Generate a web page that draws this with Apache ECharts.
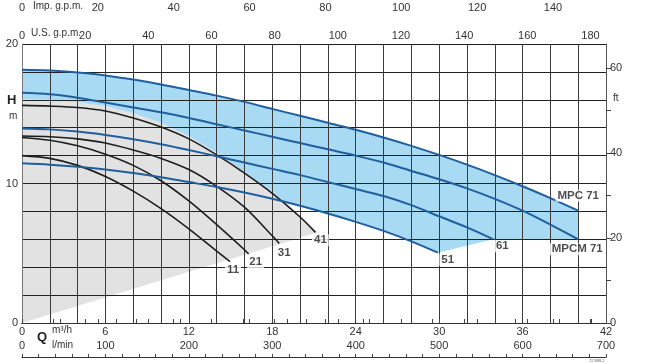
<!DOCTYPE html>
<html><head><meta charset="utf-8">
<script src="https://cdn.jsdelivr.net/npm/echarts@6/dist/echarts.min.js"></script>
<style>html,body{margin:0;padding:0;background:#fff}#c{width:653px;height:364px}</style>
</head><body><div id="c"></div>
<script>
// ---- data (Q in m3/h, H in m) ----
const qMPC71 = [0,2,4,6,8,10,12,14,16,18,20,22,24,26,28,30,32,34,36,38,40];
const hMPC71 = [18.15,18.1,17.95,17.75,17.45,17.1,16.7,16.3,15.85,15.35,14.85,14.35,13.85,13.3,12.7,12.05,11.35,10.6,9.8,8.95,8.05];
const qMPCM71 = [0,2,4,6,8,10,12,14,16,18,20,22,24,26,28,30,32,34,36,38,40];
const hMPCM71 = [16.5,16.4,16.15,15.8,15.45,15.1,14.7,14.25,13.8,13.35,12.9,12.45,12.0,11.5,10.9,10.3,9.65,8.9,8.05,7.05,6.0];
const q61 = [0,2,4,6,8,10,12,14,16,18,20,22,24,26,28,30,32,33.9];
const h61 = [13.95,13.88,13.72,13.48,13.18,12.82,12.4,11.95,11.5,11.05,10.6,10.1,9.6,9.1,8.45,7.65,6.85,6.0];
const q51 = [0,2,4,6,8,10,12,14,16,18,20,22,24,26,28,29.9];
const h51 = [11.45,11.35,11.2,11.0,10.75,10.45,10.1,9.75,9.35,8.9,8.4,7.85,7.25,6.6,5.85,5.04];
const q41 = [0,2,4,6,8,10,12,14,16,18,20,21.1];
const h41 = [15.6,15.55,15.45,15.2,14.7,14.05,13.2,12.05,10.75,9.3,7.6,6.5];
const q31 = [0,2,4,6,8,10,12,14,16,18,18.5];
const h31 = [13.4,13.35,13.2,12.9,12.4,11.8,11.0,9.8,8.3,6.25,5.7];
const q21 = [0,2,4,6,8,10,12,14,16,16.3];
const h21 = [13.3,13.1,12.7,12.1,11.3,10.2,8.75,7.05,5.25,4.95];
const q11 = [0,2,4,6,8,10,12,14,14.96];
const h11 = [12.0,11.8,11.3,10.5,9.45,8.2,6.75,5.15,4.4];
// gray zone boundary (upper envelope)
const qGray = [0,2,4,6,8,10,12,14,16,18,20,21.3];
const hGray = [16.05,16.0,15.85,15.55,15.05,14.35,13.4,12.2,10.85,9.4,7.7,6.5];
// tick labels
const qTickLabels = [0,6,12,18,24,30,36,42];
const lminTickLabels = [0,100,200,300,400,500,600,700];
const hTickLabels = [0,10,20];
const ftTickLabels = [0,20,40,60];
const usTickLabels = [0,20,40,60,80,100,120,140,160,180];
const impTickLabels = [0,20,40,60,80,100,120,140];
const blueNames = ['MPC 71','MPCM 71','61','51'];
const blackNames = ['41','31','21','11'];

// ---- build ----
const zip = (q,h) => q.map((v,i)=>[v,h[i]]);
const last = (q,h) => [q[q.length-1], h[h.length-1]];
const FONT = '"Liberation Sans", Arial, sans-serif';
const M3H_TO_USGPM = 4.40287, M3H_TO_IMPGPM = 3.66615, M3H_TO_LMIN = 1000/60, M_TO_FT = 1/0.3048;
const QMAX = 42, HMAX = 20;

const bluePoly = zip(qMPC71,hMPC71)
  .concat([last(qMPCM71,hMPCM71), last(q61,h61)])
  .concat(zip(q51,h51).reverse());
const grayPoly = [[0,0]].concat(zip(qGray,hGray));

function polySeries(pts, color){
  return {type:'custom', xAxisIndex:0, yAxisIndex:0, z:1, silent:true, data:[[0,0]],
    renderItem:(p,api)=>({type:'polygon', shape:{points: pts.map(pt=>api.coord(pt))}, style:{fill:color}})};
}
function curve(q,h,color,w){
  return {type:'line', xAxisIndex:0, yAxisIndex:0, z:5, smooth:0.3, symbol:'none', silent:true,
    data: zip(q,h), lineStyle:{color, width:w}};
}
const inSet = (arr) => (v)=> arr.some(a=>Math.abs(a-v)<1e-6) ? String(v) : '';

const labelOffsets = {'MPC 71':[0,-15],'MPCM 71':[-1,10],'61':[9,7],'51':[10,7],'41':[5,8],'31':[5,9],'21':[7,8],'11':[3,8]};
const ends = {'MPC 71':last(qMPC71,hMPC71),'MPCM 71':last(qMPCM71,hMPCM71),'61':last(q61,h61),'51':last(q51,h51),
  '41':last(q41,h41),'31':last(q31,h31),'21':last(q21,h21),'11':last(q11,h11)};
const labelData = blueNames.concat(blackNames).map(n=>({name:n, value:ends[n],
  label:{offset:labelOffsets[n]}}));

const axisLbl = {color:'#333', fontSize:11, fontFamily:FONT};
const option = {
  animation:false,
  grid:{left:22, right:47, top:44, bottom:41, containLabel:false},
  xAxis:[
    {type:'value', min:0, max:QMAX, interval:2, position:'bottom', z:3,
     axisLine:{show:true, onZero:false, lineStyle:{color:'#666', width:1}},
     axisTick:{show:false},
     axisLabel:Object.assign({margin:3, showMinLabel:true, showMaxLabel:true, formatter:inSet(qTickLabels)},axisLbl),
     splitLine:{show:true, lineStyle:{color:'#3a3a3a', width:1}}},
    {type:'value', min:0, max:QMAX*M3H_TO_USGPM, interval:10, position:'top', z:3,
     axisLine:{show:true, lineStyle:{color:'#555', width:1}},
     axisTick:{show:true, inside:false, length:4, lineStyle:{color:'#444'}},
     axisLabel:Object.assign({margin:3, showMinLabel:true, showMaxLabel:false, formatter:inSet(usTickLabels)},axisLbl),
     splitLine:{show:false}},
    {type:'value', min:0, max:QMAX*M3H_TO_IMPGPM, interval:10, position:'top', offset:28, z:3,
     axisLine:{show:true, lineStyle:{color:'#333', width:1}},
     axisTick:{show:true, inside:false, length:4, lineStyle:{color:'#444'}},
     axisLabel:Object.assign({margin:3, showMinLabel:true, showMaxLabel:false, formatter:inSet(impTickLabels)},axisLbl),
     splitLine:{show:false}},
    {type:'value', min:0, max:QMAX*M3H_TO_LMIN, interval:20, position:'bottom', offset:34, z:3,
     axisLine:{show:true, onZero:false, lineStyle:{color:'#333', width:1}},
     axisTick:{show:true, inside:true, length:3, lineStyle:{color:'#444'}},
     axisLabel:Object.assign({inside:true, margin:6, showMinLabel:true, showMaxLabel:true, formatter:inSet(lminTickLabels)},axisLbl),
     splitLine:{show:false}}
  ],
  yAxis:[
    {type:'value', min:0, max:HMAX, interval:2, position:'left', z:3,
     axisLine:{show:true, onZero:false, lineStyle:{color:'#777', width:1}},
     axisTick:{show:false},
     axisLabel:Object.assign({margin:4, showMinLabel:true, showMaxLabel:true, formatter:inSet(hTickLabels)},axisLbl),
     splitLine:{show:true, lineStyle:{color:'#222', width:1}}},
    {type:'value', min:0, max:HMAX*M_TO_FT, interval:10, position:'right', z:3,
     axisLine:{show:true, onZero:false, lineStyle:{color:'#555', width:1}},
     axisTick:{show:true, inside:false, length:5, lineStyle:{color:'#444'}},
     axisLabel:Object.assign({margin:4, showMinLabel:true, showMaxLabel:false, formatter:inSet(ftTickLabels)},axisLbl),
     splitLine:{show:false}}
  ],
  series:[
    polySeries(bluePoly,'#a8daf4'),
    polySeries(grayPoly,'#e2e2e2'),
    curve(q11,h11,'#1d1d1d',1.6),
    curve(q21,h21,'#1d1d1d',1.6),
    curve(q31,h31,'#1d1d1d',1.6),
    curve(q41,h41,'#1d1d1d',1.6),
    curve(q51,h51,'#1f5f9e',2),
    curve(q61,h61,'#1f5f9e',2),
    curve(qMPCM71,hMPCM71,'#1f5f9e',2),
    curve(qMPC71,hMPC71,'#1f5f9e',2),
    {type:'scatter', xAxisIndex:0, yAxisIndex:0, z:8, symbolSize:0, silent:true, data:labelData,
     label:{show:true, position:'inside', formatter:'{b}', color:'#222', fontWeight:'bold', fontSize:11.5,
            fontFamily:FONT, backgroundColor:'#fff', padding:[0,2]}}
  ],
  graphic:[
    {type:'text', left:33, top:1, style:{text:'Imp. g.p.m.', fontSize:10, fill:'#333', fontFamily:FONT}},
    {type:'text', left:31, top:28, style:{text:'U.S. g.p.m.', fontSize:10, fill:'#333', fontFamily:FONT}},
    {type:'text', left:7, top:94, style:{text:'H', fontSize:13, fontWeight:'bold', fill:'#222', fontFamily:FONT}},
    {type:'text', left:9, top:111, style:{text:'m', fontSize:10, fill:'#333', fontFamily:FONT}},
    {type:'text', left:37, top:331, style:{text:'Q', fontSize:13, fontWeight:'bold', fill:'#222', fontFamily:FONT}},
    {type:'text', left:52, top:325, style:{text:'m³/h', fontSize:10, fill:'#333', fontFamily:FONT}},
    {type:'text', left:52, top:340, style:{text:'l/min', fontSize:10, fill:'#333', fontFamily:FONT}},
    {type:'text', left:613, top:93, style:{text:'ft', fontSize:10, fill:'#333', fontFamily:FONT}},
    {type:'text', left:589, top:359, style:{text:'72.888.2', fontSize:4, fill:'#666', fontFamily:FONT}}
  ]
};
const chart = echarts.init(document.getElementById('c'), null, {renderer:'canvas'});
chart.setOption(option);
</script></body></html>
